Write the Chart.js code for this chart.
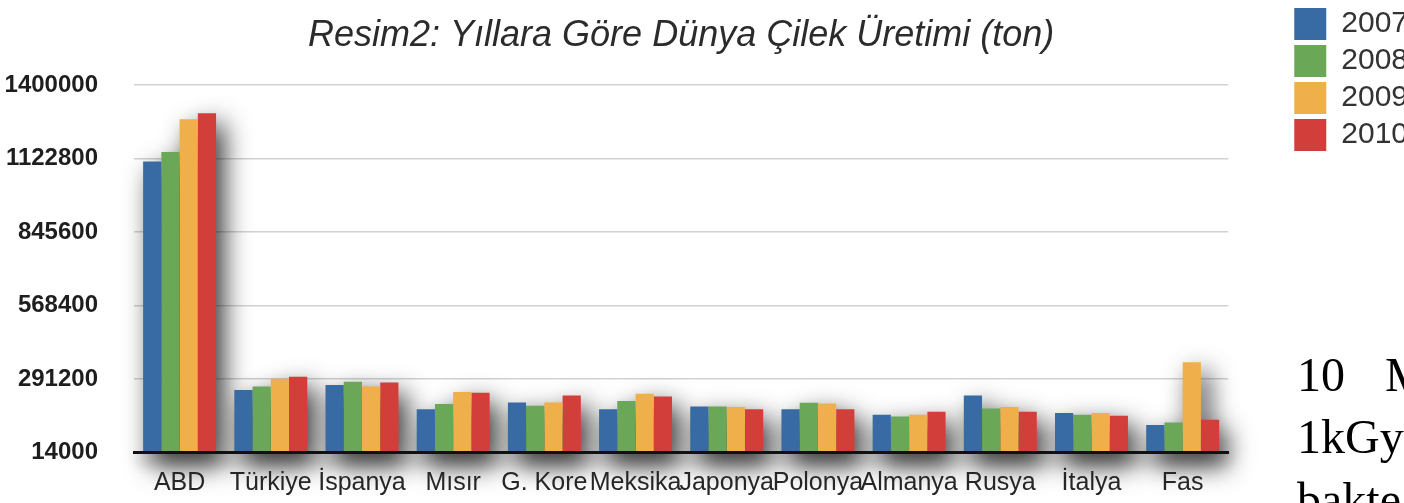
<!DOCTYPE html>
<html lang="tr">
<head>
<meta charset="utf-8">
<title>Dünya Çilek Üretimi</title>
<script src="https://cdn.jsdelivr.net/npm/chart.js@4.4.1/dist/chart.umd.min.js"></script>
<style>
  html, body { margin: 0; padding: 0; background: #fff; overflow: hidden; width: 1404px; height: 503px; }
  #wrap { position: relative; width: 1404px; height: 503px; overflow: hidden; }
  #chart { position: absolute; left: 0; top: 0; }
  .side {
    position: absolute; left: 1297px;
    font-family: 'Liberation Serif', 'Times New Roman', serif;
    font-size: 48px; line-height: 1; color: #000; white-space: nowrap;
  }
</style>
</head>
<body>
<div id="wrap">
  <canvas id="chart" width="1418" height="503"></canvas>
  <div class="side" style="top:351px; word-spacing:28px;">10 M</div>
  <div class="side" style="top:413px;">1kGy</div>
  <div class="side" style="top:476px;">bakte</div>
</div>
<script>
// Strawberry production by country, tonnes per year
const categories = ['ABD', 'Türkiye', 'İspanya', 'Mısır', 'G. Kore', 'Meksika', 'Japonya', 'Polonya', 'Almanya', 'Rusya', 'İtalya', 'Fas'];
const years = ['2007', '2008', '2009', '2010'];

const prod2007 = [1112000, 250600, 269000, 178000, 203000, 178000, 188000, 178000, 156700, 229000, 163000, 118000];
const prod2008 = [1148000, 263000, 281000, 197000, 190500, 209000, 188000, 201800, 150300, 180400, 156700, 128000];
const prod2009 = [1272000, 293000, 263000, 243000, 203000, 235600, 185600, 199000, 156700, 185600, 163000, 354700];
const prod2010 = [1294000, 300600, 278000, 240000, 229000, 225500, 178000, 178000, 168000, 168000, 153000, 138000];

const yTicks = [14000, 291200, 568400, 845600, 1122800, 1400000];
const chartTitle = 'Resim2: Yıllara Göre Dünya Çilek Üretimi (ton)';

const seriesValues = [prod2007, prod2008, prod2009, prod2010];
const seriesColors = ['#386ba3', '#6aa757', '#efb04b', '#d23f3a'];

// Soft drop shadow behind each country's group of bars and under the base line
const groupShadow = {
  id: 'groupShadow',
  beforeDatasetsDraw(chart) {
    const metas = chart.getSortedVisibleDatasetMetas();
    if (!metas.length) return;
    const ctx = chart.ctx;
    const area = chart.chartArea;
    const shift = 5000;
    ctx.save();
    ctx.translate(-shift, 0);
    ctx.fillStyle = '#000';
    ctx.shadowColor = 'rgba(0,0,0,0.4)';
    ctx.shadowBlur = 14;
    ctx.shadowOffsetX = shift + 2;
    ctx.shadowOffsetY = 7;
    ctx.fillRect(area.left, area.bottom - 1, area.right - area.left, 3);
    ctx.shadowColor = 'rgba(0,0,0,0.78)';
    ctx.shadowBlur = 26;
    ctx.shadowOffsetX = shift + 8;
    ctx.shadowOffsetY = 10;
    const n = metas[0].data.length;
    for (let j = 0; j < n; j++) {
      const bars = metas.map(m => m.data[j]);
      const base = bars[0].base;
      ctx.beginPath();
      ctx.moveTo(bars[0].x - bars[0].width / 2, base);
      bars.forEach(b => {
        ctx.lineTo(b.x - b.width / 2, b.y);
        ctx.lineTo(b.x + b.width / 2, b.y);
      });
      const last = bars[bars.length - 1];
      ctx.lineTo(last.x + last.width / 2, base);
      ctx.closePath();
      ctx.fill();
    }
    ctx.restore();
  }
};

Chart.defaults.font.family = "'Liberation Sans', Arial, Helvetica, sans-serif";

new Chart(document.getElementById('chart'), {
  type: 'bar',
  data: {
    labels: categories,
    datasets: years.map((y, i) => ({
      label: y,
      data: seriesValues[i],
      backgroundColor: seriesColors[i],
      borderWidth: 0,
      categoryPercentage: 0.8,
      barPercentage: 1.0
    }))
  },
  options: {
    responsive: false,
    animation: false,
    layout: { padding: { top: 3, right: 0, bottom: 0, left: 0 } },
    plugins: {
      tooltip: { enabled: false },
      title: {
        display: true,
        text: chartTitle,
        fullSize: false,
        color: '#2b2b2b',
        font: { size: 36, style: 'italic', weight: 'normal' },
        padding: { top: 11, bottom: 28 }
      },
      legend: {
        position: 'right',
        align: 'start',
        fullSize: true,
        labels: {
          boxWidth: 32,
          boxHeight: 32,
          padding: 5,
          color: '#333',
          font: { size: 30 }
        }
      }
    },
    scales: {
      x: {
        type: 'category',
        grid: { display: false, drawTicks: false },
        border: { display: true, color: '#111', width: 3, z: 1 },
        ticks: {
          z: 1,
          padding: 16,
          color: '#262626',
          maxRotation: 0,
          autoSkip: false,
          font: { size: 25 }
        },
        afterFit: s => { s.height = 50; }
      },
      y: {
        min: 14000,
        max: 1400000,
        afterBuildTicks: s => { s.ticks = yTicks.map(v => ({ value: v })); },
        afterFit: s => { s.width = 134; },
        grid: { color: '#d2d2d2', lineWidth: 1.5, drawTicks: false },
        border: { display: false },
        ticks: {
          padding: 36,
          color: '#1e1e1e',
          font: { size: 24, weight: 'bold' },
          callback: v => String(v)
        }
      },
      gap: {
        type: 'linear',
        position: 'right',
        grid: { display: false, drawTicks: false },
        border: { display: false },
        ticks: { display: false },
        afterFit: s => { s.width = 61; }
      }
    }
  },
  plugins: [groupShadow]
});
</script>
</body>
</html>
